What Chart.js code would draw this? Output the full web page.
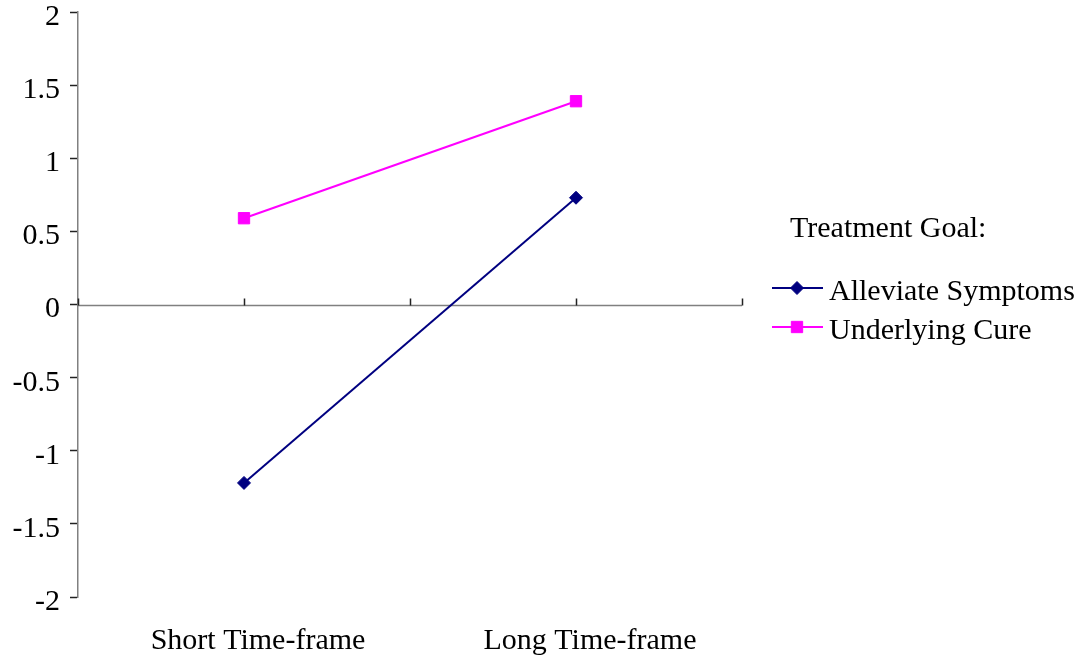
<!DOCTYPE html>
<html>
<head>
<meta charset="utf-8">
<script src="https://cdn.jsdelivr.net/npm/chart.js@4"></script>
<style>
  html, body { margin: 0; padding: 0; background: #ffffff; }
  #wrap { width: 1084px; height: 660px; }
</style>
</head>
<body>
<div id="wrap"><canvas id="chart"></canvas></div>
<script>
// Interaction of time-frame and treatment goal
const categories = ['Short Time-frame', 'Long Time-frame'];
const alleviateSymptoms = [-1.22, 0.73];
const underlyingCure = [0.59, 1.39];
const yTickValues = [-2, -1.5, -1, -0.5, 0, 0.5, 1, 1.5, 2];
const seriesNames = ['Alleviate Symptoms', 'Underlying Cure'];
const legendTitle = 'Treatment Goal:';

const FONT_FAMILY = '"Liberation Serif", "Times New Roman", serif';
const FONT_SIZE = 30;
const AXIS_GREY = '#808080';
const TICK_DARK = '#222222';

// Horizontal axis line drawn through y = 0, with short upward tick marks
const zeroAxisPlugin = {
  id: 'zeroAxis',
  beforeDatasetsDraw(chart) {
    const { ctx, chartArea, scales } = chart;
    const x = scales.x, y = scales.y;
    const y0 = Math.round(y.getPixelForValue(0)) + 0.5;
    ctx.save();
    ctx.strokeStyle = AXIS_GREY;
    ctx.lineWidth = 1.5;
    ctx.beginPath();
    ctx.moveTo(chartArea.left, y0);
    ctx.lineTo(chartArea.right, y0);
    ctx.stroke();
    // ticks at category centres and boundaries
    const marks = [chartArea.left, chartArea.right];
    for (let i = 0; i < categories.length; i++) {
      marks.push(x.getPixelForValue(i));
      if (i < categories.length - 1) {
        marks.push((x.getPixelForValue(i) + x.getPixelForValue(i + 1)) / 2);
      }
    }
    ctx.strokeStyle = TICK_DARK;
    ctx.lineWidth = 1.5;
    ctx.beginPath();
    marks.forEach(px => {
      const xx = Math.round(px) + 0.5;
      ctx.moveTo(xx, y0);
      ctx.lineTo(xx, y0 - 7);
    });
    ctx.stroke();
    ctx.restore();
  }
};

// Legend at the right: title, then a line sample with its marker per series
const sideLegendPlugin = {
  id: 'sideLegend',
  afterDraw(chart) {
    const { ctx } = chart;
    ctx.save();
    ctx.font = FONT_SIZE + 'px ' + FONT_FAMILY;
    ctx.fillStyle = '#000000';
    ctx.textBaseline = 'alphabetic';
    ctx.textAlign = 'left';
    ctx.fillText(legendTitle, 790, 237);
    const rows = [288, 327];
    chart.data.datasets.forEach((ds, i) => {
      const yy = rows[i];
      ctx.strokeStyle = ds.borderColor;
      ctx.lineWidth = ds.borderWidth;
      ctx.beginPath();
      ctx.moveTo(772, yy);
      ctx.lineTo(823, yy);
      ctx.stroke();
      const opts = {
        pointStyle: ds.pointStyle,
        radius: ds.pointRadius,
        rotation: 0,
        borderWidth: ds.pointBorderWidth
      };
      ctx.fillStyle = ds.pointBackgroundColor;
      ctx.strokeStyle = ds.pointBorderColor;
      ctx.lineWidth = ds.pointBorderWidth;
      Chart.helpers.drawPoint(ctx, opts, 797, yy);
      ctx.fillStyle = '#000000';
      ctx.fillText(ds.label, 829, yy + 12);
    });
    ctx.restore();
  }
};

new Chart(document.getElementById('chart'), {
  type: 'line',
  data: {
    labels: categories,
    datasets: [
      {
        label: seriesNames[0],
        data: alleviateSymptoms,
        borderColor: '#000080',
        backgroundColor: '#000080',
        borderWidth: 2,
        pointStyle: 'rectRot',
        pointRadius: 6.5,
        pointBackgroundColor: '#000080',
        pointBorderColor: '#000080',
        pointBorderWidth: 1,
        tension: 0,
        fill: false
      },
      {
        label: seriesNames[1],
        data: underlyingCure,
        borderColor: '#ff00ff',
        backgroundColor: '#ff00ff',
        borderWidth: 2,
        pointStyle: 'rect',
        pointRadius: 8,
        pointBackgroundColor: '#ff00ff',
        pointBorderColor: '#ff00ff',
        pointBorderWidth: 1,
        tension: 0,
        fill: false
      }
    ]
  },
  options: {
    responsive: true,
    maintainAspectRatio: false,
    animation: false,
    layout: { padding: { left: 0, right: 342, top: 12, bottom: 0 } },
    plugins: {
      legend: { display: false },
      tooltip: { enabled: false },
      title: { display: false }
    },
    scales: {
      x: {
        type: 'category',
        offset: true,
        grid: { display: false },
        border: { display: false },
        ticks: {
          color: '#000000',
          font: { family: FONT_FAMILY, size: FONT_SIZE },
          padding: 18,
          labelOffset: 14,
          maxRotation: 0,
          autoSkip: false
        },
        afterFit(scale) {
          scale.height = 63;
          scale.paddingLeft = 0;
          scale.paddingRight = 0;
        }
      },
      y: {
        type: 'linear',
        min: -2,
        max: 2,
        afterBuildTicks(scale) {
          scale.ticks = yTickValues.map(v => ({ value: v }));
        },
        grid: {
          drawOnChartArea: false,
          drawTicks: true,
          tickLength: 8,
          tickColor: TICK_DARK,
          tickWidth: 1.5
        },
        border: { display: true, color: AXIS_GREY, width: 1.5 },
        ticks: {
          color: '#000000',
          font: { family: FONT_FAMILY, size: FONT_SIZE },
          padding: 10,
          labelOffset: 5,
          callback: v => String(v)
        },
        afterFit(scale) {
          scale.width = 78;
          scale.paddingTop = 0;
          scale.paddingBottom = 0;
        }
      }
    }
  },
  plugins: [zeroAxisPlugin, sideLegendPlugin]
});
</script>
</body>
</html>
